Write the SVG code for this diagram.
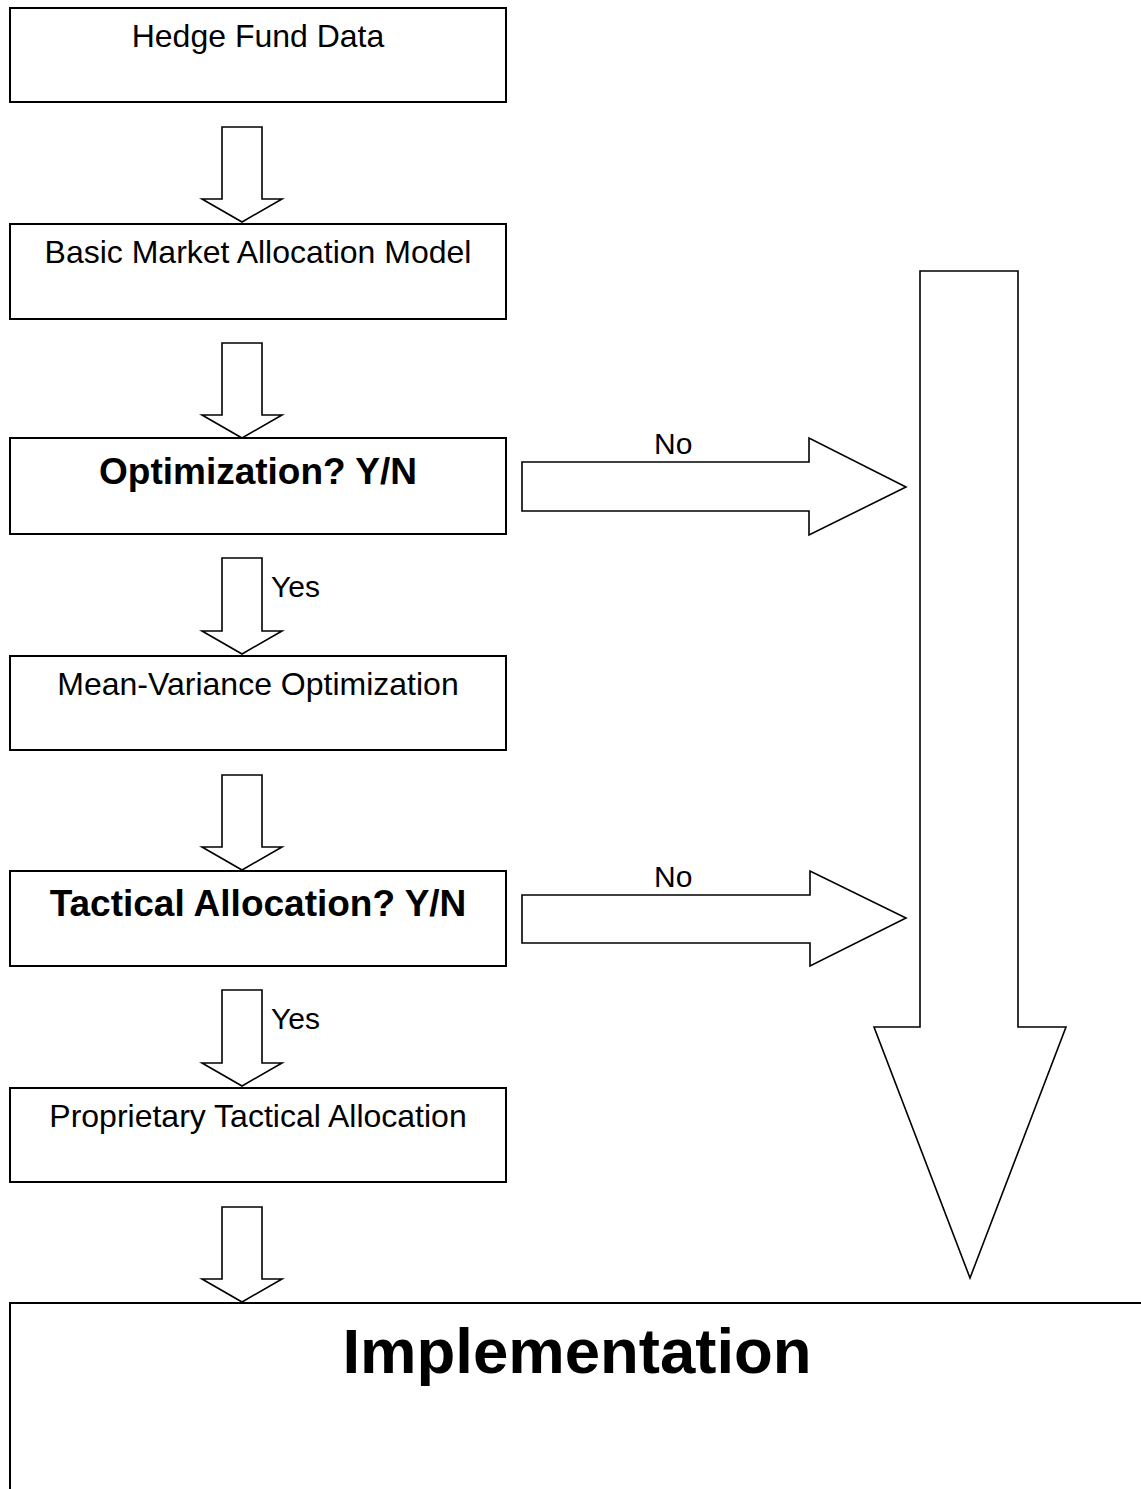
<svg xmlns="http://www.w3.org/2000/svg" width="1141" height="1489" viewBox="0 0 1141 1489">
<style>
.box{fill:#fff;stroke:#000;stroke-width:2}
.arr{fill:#fff;stroke:#000;stroke-width:1.6;stroke-linejoin:miter}
.t{font-family:"Liberation Sans",Arial,sans-serif;font-size:32px;fill:#000;text-anchor:middle}
.b{font-family:"Liberation Sans",Arial,sans-serif;font-size:37px;font-weight:bold;fill:#000;text-anchor:middle}
.l{font-family:"Liberation Sans",Arial,sans-serif;font-size:30px;fill:#000}
</style>
<rect width="1141" height="1489" fill="#fff"/>
<g id="connectors">
<polygon class="arr" points="222,127 262,127 262,199 282,199 242,222 202,199 222,199"/>
<polygon class="arr" points="222,343 262,343 262,415 282,415 242,438 202,415 222,415"/>
<polygon class="arr" points="222,558 262,558 262,631 282,631 242,654 202,631 222,631"/>
<polygon class="arr" points="222,775 262,775 262,847 282,847 242,870 202,847 222,847"/>
<polygon class="arr" points="222,990 262,990 262,1063 282,1063 242,1086 202,1063 222,1063"/>
<polygon class="arr" points="222,1207 262,1207 262,1279 282,1279 242,1302 202,1279 222,1279"/>
<polygon class="arr" points="522,462 809,462 809,438 906,487 809,535 809,511 522,511"/>
<polygon class="arr" points="522,895 810,895 810,871 906,918 810,966 810,943 522,943"/>
<polygon class="arr" points="920,271 1018,271 1018,1027 1066,1027 970,1278 874,1027 920,1027"/>
<text class="l" x="271" y="597">Yes</text>
<text class="l" x="271" y="1029">Yes</text>
<text class="l" x="654" y="454">No</text>
<text class="l" x="654" y="887">No</text>
</g>
<g id="n1"><rect class="box" x="10" y="8" width="496" height="94"/><text class="t" x="258" y="47">Hedge Fund Data</text></g>
<g id="n2"><rect class="box" x="10" y="224" width="496" height="95"/><text class="t" x="258" y="263">Basic Market Allocation Model</text></g>
<g id="n3"><rect class="box" x="10" y="438" width="496" height="96"/><text class="b" x="258" y="484">Optimization? Y/N</text></g>
<g id="n4"><rect class="box" x="10" y="656" width="496" height="94"/><text class="t" x="258" y="695">Mean-Variance Optimization</text></g>
<g id="n5"><rect class="box" x="10" y="871" width="496" height="95"/><text class="b" x="258" y="916">Tactical Allocation? Y/N</text></g>
<g id="n6"><rect class="box" x="10" y="1088" width="496" height="94"/><text class="t" x="258" y="1127">Proprietary Tactical Allocation</text></g>
<g id="n7"><path class="box" d="M10,1489 V1303 H1145" fill="none"/><text class="b" style="font-size:63.5px" x="577" y="1373">Implementation</text></g>
</svg>
